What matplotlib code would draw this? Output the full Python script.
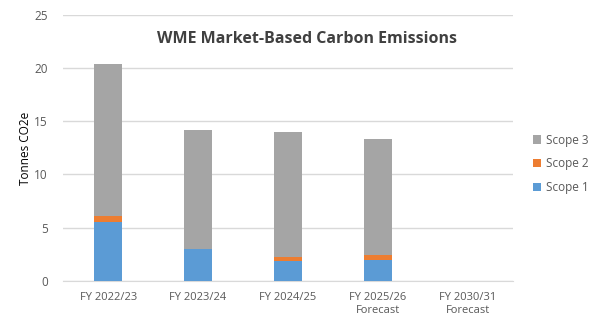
import matplotlib
matplotlib.use("Agg")
import matplotlib.pyplot as plt
import numpy as np

plt.rcParams['font.family'] = ['Open Sans', 'DejaVu Sans']

categories = ['FY 2022/23', 'FY 2023/24', 'FY 2024/25',
              'FY 2025/26\nForecast', 'FY 2030/31\nForecast']
scope1 = [5.55, 3.0, 1.9, 2.0, 0]
scope2 = [0.55, 0.0, 0.3, 0.45, 0]
scope3 = [14.3, 11.2, 11.8, 10.9, 0]

fig = plt.figure(figsize=(6.02, 3.32), dpi=100)
ax = fig.add_axes([0.105, 0.154, 0.747, 0.801])

x = np.arange(len(categories))
w = 0.31
s1 = np.array(scope1)
s2 = np.array(scope2)
s3 = np.array(scope3)
b1 = ax.bar(x, s1, w, color='#5B9BD5', label='Scope 1', zorder=3)
b2 = ax.bar(x, s2, w, bottom=s1, color='#ED7D31', label='Scope 2', zorder=3)
b3 = ax.bar(x, s3, w, bottom=s1 + s2, color='#A5A5A5', label='Scope 3', zorder=3)

ax.set_xlim(-0.5, len(categories) - 0.5)
ax.set_ylim(0, 25)
ax.set_yticks(range(0, 26, 5))
ax.set_xticks(x)
ax.set_xticklabels(categories, fontsize=8, color='#595959')
ax.tick_params(axis='y', labelsize=8.5, labelcolor='#595959', length=0, pad=11)
ax.tick_params(axis='x', length=0, pad=8)
ax.grid(axis='y', color='#D9D9D9', linewidth=1, zorder=0)
for s in ['top', 'right', 'left']:
    ax.spines[s].set_visible(False)
ax.spines['bottom'].set_color('#D9D9D9')
ax.set_ylabel('Tonnes CO2e', fontsize=8.5, color='black', labelpad=2)

fig.text(0.51, 0.87, 'WME Market-Based Carbon Emissions', ha='center',
         fontsize=11.5, fontweight='bold', color='#404040')

ax.legend(handles=[b3, b2, b1], loc='center left', bbox_to_anchor=(1.02, 0.44),
          frameon=False, fontsize=8.5, handlelength=0.7, handleheight=0.7,
          labelspacing=0.9, handletextpad=0.4, labelcolor='#595959')

fig.savefig('out.png', dpi=100)
